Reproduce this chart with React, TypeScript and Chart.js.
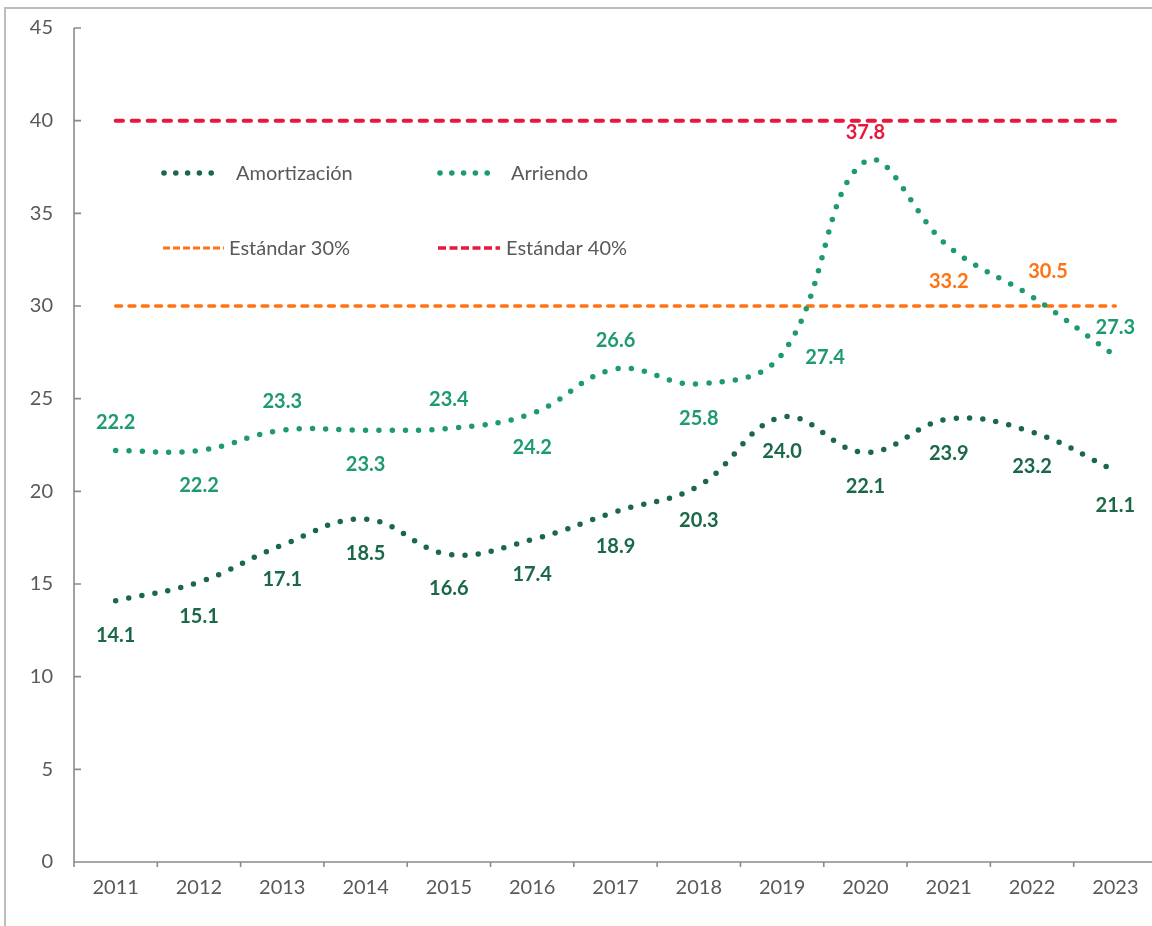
import React, { useEffect, useRef } from 'react';
import { Chart, registerables } from 'chart.js';

Chart.register(...registerables);

const YEARS = ['2011', '2012', '2013', '2014', '2015', '2016', '2017', '2018', '2019', '2020', '2021', '2022', '2023'];
const AMORTIZACION = [14.1, 15.1, 17.1, 18.5, 16.6, 17.4, 18.9, 20.3, 24.0, 22.1, 23.9, 23.2, 21.1];
const ARRIENDO = [22.2, 22.2, 23.3, 23.3, 23.4, 24.2, 26.6, 25.8, 27.4, 37.8, 33.2, 30.5, 27.3];
const ESTANDAR_30 = [30, 30, 30, 30, 30, 30, 30, 30, 30, 30, 30, 30, 30];
const ESTANDAR_40 = [40, 40, 40, 40, 40, 40, 40, 40, 40, 40, 40, 40, 40];
const Y_TICKS = [0, 5, 10, 15, 20, 25, 30, 35, 40, 45];

const FONT = 'Lato, "Open Sans", sans-serif';
const GRAY_TEXT = '#595959';
const AXIS_COLOR = '#8a8a8a';
const AMORT_COLOR = '#1a6847';
const ARR_COLOR = '#1e9b6e';
const RED = '#e8173d';
const ORANGE = '#ff7314';

// label placement (style only)
const AMORT_PLACEMENT = ['below', 'below', 'below', 'below', 'below', 'below', 'below', 'below', 'below', 'below', 'below', 'below', 'below'];
const ARR_PLACEMENT = ['above', 'below', 'above', 'below', 'above', 'below', 'above', 'below', 'right', 'above', 'below', 'aboveRight', 'above'];
const ARR_LABEL_COLORS = [ARR_COLOR, ARR_COLOR, ARR_COLOR, ARR_COLOR, ARR_COLOR, ARR_COLOR, ARR_COLOR, ARR_COLOR, ARR_COLOR, RED, ORANGE, ORANGE, ARR_COLOR];

const OFFSETS: Record<string, [number, number]> = {
  below: [0, 34],
  above: [0, -29],
  right: [43, 3],
  aboveRight: [16, -26],
};

const axesPlugin = {
  id: 'customAxes',
  beforeDatasetsDraw(chart: any) {
    const { ctx, chartArea } = chart;
    const y = chart.scales.y;
    ctx.save();
    ctx.strokeStyle = AXIS_COLOR;
    ctx.lineWidth = 1.6;
    ctx.beginPath();
    ctx.moveTo(chartArea.left, y.getPixelForValue(45));
    ctx.lineTo(chartArea.left, chartArea.bottom);
    ctx.lineTo(chartArea.right, chartArea.bottom);
    for (const v of Y_TICKS) {
      if (v === 0) continue;
      const py = y.getPixelForValue(v);
      ctx.moveTo(chartArea.left, py);
      ctx.lineTo(chartArea.left + 7, py);
    }
    const n = YEARS.length;
    const w = (chartArea.right - chartArea.left) / n;
    for (let i = 0; i <= n; i++) {
      const px = chartArea.left + i * w;
      ctx.moveTo(px, chartArea.bottom);
      ctx.lineTo(px, chartArea.bottom + 5);
    }
    ctx.stroke();
    ctx.restore();
  },
};

const labelsPlugin = {
  id: 'valueLabels',
  afterDatasetsDraw(chart: any) {
    const { ctx } = chart;
    ctx.save();
    ctx.font = `bold 20px ${FONT}`;
    ctx.textAlign = 'center';
    ctx.textBaseline = 'alphabetic';
    const draw = (dsIndex: number, values: number[], placement: string[], colors: string[]) => {
      const meta = chart.getDatasetMeta(dsIndex);
      values.forEach((v, i) => {
        const pt = meta.data[i];
        const [dx, dy] = OFFSETS[placement[i]];
        ctx.fillStyle = colors[i];
        ctx.fillText(v.toFixed(1), pt.x + dx, pt.y + dy + 7);
      });
    };
    draw(0, AMORTIZACION, AMORT_PLACEMENT, AMORTIZACION.map(() => AMORT_COLOR));
    draw(1, ARRIENDO, ARR_PLACEMENT, ARR_LABEL_COLORS);
    ctx.restore();
  },
};

const legendPlugin = {
  id: 'customLegend',
  afterDraw(chart: any) {
    const { ctx } = chart;
    ctx.save();
    const dots = (x0: number, color: string) => {
      ctx.fillStyle = color;
      for (let i = 0; i < 5; i++) {
        ctx.beginPath();
        ctx.arc(x0 + i * 11.8, 173, 2.8, 0, Math.PI * 2);
        ctx.fill();
      }
    };
    dots(164, AMORT_COLOR);
    dots(440, ARR_COLOR);
    const dashes = (x0: number, x1: number, color: string, lw: number, dash: number[]) => {
      ctx.strokeStyle = color;
      ctx.lineWidth = lw;
      ctx.lineCap = 'butt';
      ctx.setLineDash(dash);
      ctx.beginPath();
      ctx.moveTo(x0, 248);
      ctx.lineTo(x1, 248);
      ctx.stroke();
      ctx.setLineDash([]);
    };
    dashes(163, 224, ORANGE, 2.8, [7, 3]);
    dashes(438, 500, RED, 3.6, [8, 3.5]);
    ctx.fillStyle = GRAY_TEXT;
    ctx.font = `20px ${FONT}`;
    ctx.textAlign = 'left';
    ctx.textBaseline = 'alphabetic';
    ctx.fillText('Amortización', 236, 180);
    ctx.fillText('Arriendo', 511, 180);
    ctx.fillText('Estándar 30%', 229, 255);
    ctx.fillText('Estándar 40%', 506, 255);
    ctx.restore();
  },
};

export default function App() {
  const ref = useRef<HTMLCanvasElement | null>(null);

  useEffect(() => {
    if (!ref.current) return;
    const chart = new Chart(ref.current, {
      type: 'line',
      data: {
        labels: YEARS,
        datasets: [
          {
            label: 'Amortización',
            data: AMORTIZACION,
            borderColor: AMORT_COLOR,
            borderWidth: 5.5,
            borderDash: [0, 13.3],
            borderCapStyle: 'round',
            pointRadius: 0,
            tension: 0.4,
            fill: false,
          },
          {
            label: 'Arriendo',
            data: ARRIENDO,
            borderColor: ARR_COLOR,
            borderWidth: 5.5,
            borderDash: [0, 13.3],
            borderCapStyle: 'round',
            pointRadius: 0,
            tension: 0.4,
            fill: false,
          },
          {
            label: 'Estándar 30%',
            data: ESTANDAR_30,
            borderColor: ORANGE,
            borderWidth: 3.3,
            borderDash: [6, 7.3],
            borderCapStyle: 'round',
            pointRadius: 0,
            tension: 0,
            fill: false,
          },
          {
            label: 'Estándar 40%',
            data: ESTANDAR_40,
            borderColor: RED,
            borderWidth: 4,
            borderDash: [7.3, 8.7],
            borderCapStyle: 'round',
            pointRadius: 0,
            tension: 0,
            fill: false,
          },
        ],
      },
      options: {
        responsive: false,
        animation: false,
        layout: { padding: { top: 28, right: 3, bottom: 0, left: 0 } },
        plugins: { legend: { display: false }, tooltip: { enabled: false } },
        scales: {
          x: {
            offset: true,
            grid: { display: false, drawTicks: false },
            border: { display: false },
            ticks: {
              font: { family: FONT, size: 20 },
              color: GRAY_TEXT,
              padding: 14,
              maxRotation: 0,
              autoSkip: false,
            },
            afterFit: (s: any) => {
              s.height = 64;
            },
          },
          y: {
            min: 0,
            max: 45,
            grid: { display: false, drawTicks: true, tickLength: 18 },
            border: { display: false },
            afterBuildTicks: (s: any) => {
              s.ticks = Y_TICKS.map((v) => ({ value: v }));
            },
            ticks: {
              font: { family: FONT, size: 20 },
              color: GRAY_TEXT,
              padding: 3,
            },
            afterFit: (s: any) => {
              s.width = 74;
            },
          },
        },
      },
      plugins: [axesPlugin, labelsPlugin, legendPlugin],
    } as any);
    return () => chart.destroy();
  }, []);

  return (
    <div style={{ position: 'absolute', left: 0, top: 0, width: 1152, height: 926, overflow: 'hidden', background: '#fff' }}>
      <div
        style={{
          position: 'absolute',
          left: 4,
          top: 7,
          width: 1300,
          height: 1100,
          border: '2px solid #bdbdbd',
          boxSizing: 'border-box',
        }}
      />
      <canvas ref={ref} width={1160} height={926} style={{ position: 'absolute', left: 0, top: 0, width: 1160, height: 926 }} />
    </div>
  );
}
